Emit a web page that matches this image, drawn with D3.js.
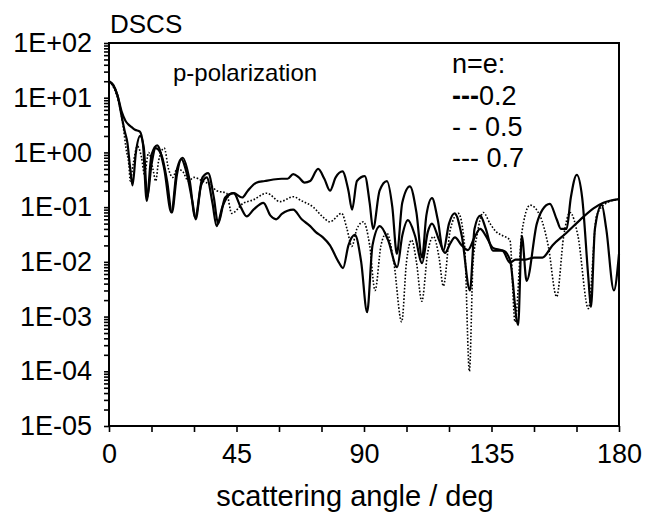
<!DOCTYPE html>
<html>
<head>
<meta charset="utf-8">
<script src="https://cdn.jsdelivr.net/npm/d3@7"></script>
<style>
  body { margin: 0; background: #fff; }
  text { font-family: "Liberation Sans", Arial, sans-serif; fill: #000; }
</style>
</head>
<body>
<div id="chart"></div>
<script>
// angle (deg) / DSCS pairs
var seriesA = [[0,20],[1.5,17],[3,11],[4.5,5.5],[5.8,3.8],[6.7,3.3],[8,2.9],[9.2,2.6],[10.9,2.4],[12,1.4],[13.3,0.13],[15,0.9],[17,1.35],[19.5,0.5],[22,0.08],[24,0.5],[26,0.8],[28.5,0.3],[30.4,0.065],[33,0.35],[35,0.42],[37,0.15],[38.5,0.05],[41,0.15],[44,0.18],[47,0.15],[49,0.2],[52,0.28],[55,0.3],[58,0.32],[61,0.33],[63,0.33],[65,0.4],[67,0.35],[69,0.28],[71,0.3],[73.8,0.5],[76,0.33],[78,0.2],[80,0.35],[82.4,0.45],[84.5,0.2],[85.8,0.09],[87.5,0.3],[90.3,0.37],[92,0.12],[93.2,0.04],[95.5,0.2],[98.1,0.3],[100,0.1],[101.6,0.014],[103.5,0.12],[106.2,0.24],[108.5,0.08],[110.5,0.012],[112,0.07],[114,0.146],[116,0.06],[118,0.016],[120,0.05],[122,0.077],[124.5,0.03],[127.4,0.003],[129,0.04],[131,0.07],[133,0.04],[135.5,0.016],[139,0.016],[141.5,0.011],[144.4,0.0007],[145.7,0.03],[147.4,0.0045],[151,0.05],[153,0.09],[155.6,0.115],[158,0.06],[159.5,0.04],[161.5,0.04],[163,0.15],[165.1,0.39],[167,0.15],[169.2,0.005],[170.1,0.0015],[171.5,0.04],[173.9,0.11],[175.5,0.04],[178.2,0.003],[180,0.014]];

var seriesB = [[0,20],[1.5,17],[3,11],[4.5,4.5],[5.5,2.5],[6.5,1.5],[7.5,0.5],[8.3,0.25],[9.5,1],[11,2],[12.3,1.2],[13.5,0.15],[15,0.6],[16.5,1.2],[18.5,0.9],[20.5,0.3],[22.2,0.08],[24,0.4],[25.5,0.75],[27.5,0.4],[29.5,0.12],[30.6,0.06],[32.5,0.25],[34.5,0.35],[36.5,0.12],[38,0.045],[40,0.1],[42.5,0.17],[44,0.18],[46.5,0.1],[48.6,0.068],[51,0.09],[54.5,0.12],[57,0.07],[59,0.06],[61,0.075],[65,0.09],[68,0.06],[71,0.045],[73,0.035],[75.5,0.028],[78,0.02],[81,0.01],[82.6,0.0077],[84.5,0.02],[86.8,0.031],[89,0.01],[91.1,0.0012],[93,0.02],[95.6,0.045],[98.5,0.025],[101.7,0.008],[103.5,0.03],[105.5,0.058],[108,0.03],[110.5,0.0095],[112.5,0.035],[114,0.05],[116.5,0.025],[118.6,0.0146],[120.5,0.022],[122.1,0.028],[124.5,0.02],[126.7,0.0164],[129,0.028],[131,0.04],[133,0.03],[135.5,0.018],[139,0.016],[141.5,0.0097],[143.5,0.011],[147,0.011],[150,0.012],[153,0.012],[156.5,0.02],[161.5,0.034],[166.2,0.058],[171,0.095],[174.5,0.12],[180,0.14]];

var seriesC = [[0,20],[2,14],[3.5,8],[5,3],[6,1.2],[7,0.6],[7.5,0.3],[8.5,0.6],[10,1.3],[11.5,0.8],[12.5,0.4],[14,1.0],[15.5,0.5],[16.5,0.3],[17.5,0.7],[19.5,1.2],[21,0.5],[22.5,0.35],[24,0.5],[26,0.45],[28,0.3],[30,0.35],[33,0.3],[36,0.25],[38,0.2],[41.5,0.18],[43.3,0.077],[47.4,0.118],[50.8,0.135],[55.7,0.18],[60.4,0.126],[65,0.155],[68,0.13],[72.1,0.1],[75,0.07],[78,0.054],[82.1,0.077],[84,0.04],[85.7,0.0192],[87.5,0.04],[89.8,0.054],[92,0.02],[93.9,0.003],[96,0.02],[98,0.034],[100.5,0.01],[103.3,0.0008],[105,0.01],[106.8,0.025],[108.5,0.01],[110.4,0.0019],[112.5,0.015],[114.5,0.029],[116.5,0.012],[118,0.0036],[120.5,0.04],[123.3,0.077],[125.5,0.02],[127.2,0.0001],[128.5,0.01],[129.8,0.029],[132.1,0.08],[134.5,0.05],[136.8,0.035],[139,0.03],[141.5,0.025],[143.3,0.0008],[145.7,0.034],[148.6,0.109],[152.1,0.07],[155,0.02],[158,0.0023],[160.5,0.03],[162.7,0.08],[165.5,0.03],[169.2,0.0014],[172.1,0.07],[175.7,0.12],[180,0.14]];

var yTickValues = [1e-5, 1e-4, 1e-3, 1e-2, 1e-1, 1e0, 1e1, 1e2];
var yTickLabels = ["1E-05", "1E-04", "1E-03", "1E-02", "1E-01", "1E+00", "1E+01", "1E+02"];
var xTickValues = [0, 45, 90, 135, 180];

// set the dimensions and margins of the graph
var margin = {top: 43, right: 27, bottom: 89, left: 109},
    width = 646 - margin.left - margin.right,
    height = 515 - margin.top - margin.bottom;

var svg = d3.select("#chart")
  .append("svg")
    .attr("width", 646)
    .attr("height", 515)
  .append("g")
    .attr("transform", "translate(" + margin.left + "," + margin.top + ")");

var x = d3.scaleLinear()
  .domain([0, 180])
  .range([0, width]);

var y = d3.scaleLog()
  .domain([1e-5, 1e2])
  .range([height, 0]);

// x axis: ticks every 15 deg, labels every 45
svg.append("g")
  .attr("transform", "translate(0," + height + ")")
  .call(d3.axisBottom(x).tickValues(d3.range(0, 181, 15)).tickSize(6).tickFormat(""))
  .call(g => g.select(".domain").remove());

svg.append("g")
  .attr("transform", "translate(0," + height + ")")
  .call(d3.axisBottom(x).tickValues(xTickValues).tickSize(0).tickPadding(18).tickFormat(d3.format("d")))
  .call(g => g.select(".domain").remove())
  .selectAll("text")
    .style("font-size", "27px");

// y axis: minor ticks for every 1..9 and labelled decades
svg.append("g")
  .call(d3.axisLeft(y).ticks(10).tickSize(5).tickFormat(""))
  .call(g => g.select(".domain").remove());

svg.append("g")
  .call(d3.axisLeft(y).tickValues(yTickValues).tickSize(0).tickPadding(17)
    .tickFormat((d, i) => yTickLabels[i]))
  .call(g => g.select(".domain").remove())
  .selectAll("text")
    .style("font-size", "27px");

svg.selectAll(".tick line").attr("stroke", "#000").attr("stroke-width", 1.6);

// frame
svg.append("rect")
  .attr("width", width)
  .attr("height", height)
  .attr("fill", "none")
  .attr("stroke", "#000")
  .attr("stroke-width", 2);

var line = d3.line()
  .x(d => x(d[0]))
  .y(d => y(d[1]))
  .curve(d3.curveMonotoneX);

svg.append("path")
  .datum(seriesC)
  .attr("d", line)
  .attr("fill", "none")
  .attr("stroke", "#000")
  .attr("stroke-width", 1.6)
  .attr("stroke-dasharray", "1.6,1.8");

svg.append("path")
  .datum(seriesB)
  .attr("d", line)
  .attr("fill", "none")
  .attr("stroke", "#000")
  .attr("stroke-width", 2.2)
  .attr("stroke-linejoin", "round");

svg.append("path")
  .datum(seriesA)
  .attr("d", line)
  .attr("fill", "none")
  .attr("stroke", "#000")
  .attr("stroke-width", 2.2)
  .attr("stroke-linejoin", "round");

// texts
svg.append("text")
  .attr("x", 1).attr("y", -10)
  .style("font-size", "26px")
  .text("DSCS");

svg.append("text")
  .attr("x", 64).attr("y", 38)
  .style("font-size", "24px")
  .text("p-polarization");

var legend = svg.append("g").style("font-size", "27px");
legend.append("text").attr("x", 343).attr("y", 30).text("n=e:");
var l1 = legend.append("text").attr("x", 343).attr("y", 62);
l1.append("tspan").style("font-weight", "bold").text("---");
l1.append("tspan").text("0.2");
legend.append("text").attr("x", 343).attr("y", 93).text("- - 0.5");
legend.append("text").attr("x", 343).attr("y", 124).text("--- 0.7");

svg.append("text")
  .attr("x", 246).attr("y", height + 80)
  .attr("text-anchor", "middle")
  .style("font-size", "29px")
  .text("scattering angle / deg");
</script>
</body>
</html>
